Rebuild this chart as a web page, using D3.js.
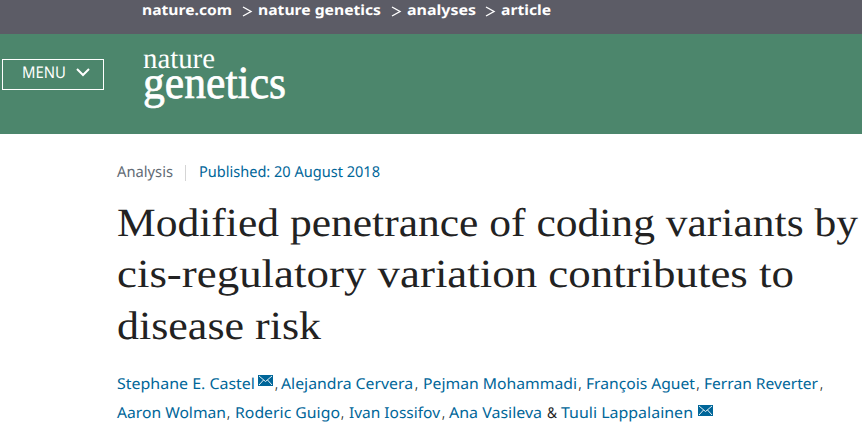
<!DOCTYPE html>
<html>
<head>
<meta charset="utf-8">
<script src="https://cdn.jsdelivr.net/npm/d3@7"></script>
<style>
    html, body { margin: 0; padding: 0; background: #fff; overflow: hidden; }
    svg { display: block; }
    text { text-rendering: geometricPrecision; }
</style>
</head>
<body>
<div id="page"></div>
<script>

//--- Text ------------------------------------------------------------------------------------------------- //

var crumbs = ['nature.com', 'nature genetics', 'analyses', 'article'];
var titleLines = ['Modified penetrance of coding variants by', 'cis-regulatory variation contributes to', 'disease risk'];
var authorsLine1 = ['Stephane E. Castel', 'Alejandra Cervera', 'Pejman Mohammadi', 'François Aguet', 'Ferran Reverter'];
var authorsLine2 = ['Aaron Wolman', 'Roderic Guigo', 'Ivan Iossifov', 'Ana Vasileva', 'Tuuli Lappalainen'];
var metaType = 'Analysis';
var metaDate = 'Published: 20 August 2018';


//--- Layout ----------------------------------------------------------------------------------------------- //

var width = 862, height = 425;
var sans = '"Noto Sans", Lato, sans-serif';
var serif = '"Liberation Serif", serif';

var svg = d3.select('#page').append('svg')
    .attr('width', width)
    .attr('height', height);

// one text with a fixed start and width
function label(x, y, str, size, w, color, font, weight) {
    return svg.append('text')
        .attr('x', x)
        .attr('y', y)
        .attr('textLength', w)
        .attr('lengthAdjust', 'spacingAndGlyphs')
        .attr('font-family', font)
        .attr('font-size', size)
        .attr('font-weight', weight || 400)
        .attr('fill', color)
        .text(str);
}

function envelope(x, y) {
    var g = svg.append('g').attr('transform', 'translate(' + x + ',' + y + ')');
    g.append('rect').attr('width', 15).attr('height', 11).attr('fill', '#069');
    g.append('path')
        .attr('d', 'M1,1L7.5,6.5L14,1M1,10L5.5,5M14,10L9.5,5')
        .attr('fill', 'none')
        .attr('stroke', '#fff')
        .attr('stroke-width', 0.9);
}


//--- Header ----------------------------------------------------------------------------------------------- //

svg.append('rect').attr('width', width).attr('height', 34).attr('fill', '#5c5c66');
svg.append('rect').attr('y', 34).attr('width', width).attr('height', 100).attr('fill', '#4c866c');

var crumbX = [142, 258, 407, 501];
var crumbW = [90, 123, 69, 50];

crumbs.forEach(function (c, i) {
    label(crumbX[i], 15, c, 14, crumbW[i], '#fff', sans, 700);
    if (i > 0) {
        svg.append('path')
            .attr('d', 'M' + (crumbX[i] - 15) + ',7L' + (crumbX[i] - 7) + ',11.5L' + (crumbX[i] - 15) + ',16')
            .attr('fill', 'none')
            .attr('stroke', '#fff')
            .attr('stroke-width', 1.4);
    }
});

svg.append('rect')
    .attr('x', 2.5).attr('y', 59.5)
    .attr('width', 101).attr('height', 30)
    .attr('fill', 'none')
    .attr('stroke', '#fff')
    .attr('stroke-width', 1);

label(22, 78, 'MENU', 16, 44, '#fff', sans, 400);

svg.append('path')
    .attr('d', 'M77,69L83,75L89,69')
    .attr('fill', 'none')
    .attr('stroke', '#fff')
    .attr('stroke-width', 2);

label(143, 68, 'nature', 29, 72, '#fff', serif, 400);
label(143, 98, 'genetics', 46, 143, '#fff', serif, 400)
    .attr('stroke', '#fff')
    .attr('stroke-width', 0.7);


//--- Meta line -------------------------------------------------------------------------------------------- //

label(117, 177, metaType, 15, 56, '#626b75', sans, 400);
svg.append('rect').attr('x', 185).attr('y', 165).attr('width', 1).attr('height', 16).attr('fill', '#d5d5d5');
label(199, 177, metaDate, 15, 181, '#069', sans, 400);


//--- Title ------------------------------------------------------------------------------------------------ //

var titleY = [235.5, 287, 338.5];
var titleW = [741, 677, 204];

svg.selectAll('text.title')
    .data(titleLines)
    .enter()
    .append('text')
    .attr('class', 'title')
    .attr('x', 117)
    .attr('y', function (d, i) { return titleY[i]; })
    .attr('textLength', function (d, i) { return titleW[i]; })
    .attr('lengthAdjust', 'spacingAndGlyphs')
    .attr('font-family', serif)
    .attr('font-size', 40)
    .attr('fill', '#222')
    .text(function (d) { return d; });


//--- Authors ---------------------------------------------------------------------------------------------- //

var line1X = [117, 281, 423, 586, 704];
var line1W = [138, 132, 154, 109, 114];
var comma1X = [275, 415, 578.5, 696.5, 820];

var line2X = [117, 235, 349, 449, 561];
var line2W = [109, 105, 91, 93, 132];
var comma2X = [227, 341, 442];

authorsLine1.forEach(function (a, i) {
    label(line1X[i], 389, a, 15, line1W[i], '#069', sans, 400);
    label(comma1X[i], 389, ',', 15, 3, '#222', sans, 400);
});

authorsLine2.forEach(function (a, i) {
    label(line2X[i], 418, a, 15, line2W[i], '#069', sans, 400);
});

comma2X.forEach(function (x) {
    label(x, 418, ',', 15, 3, '#222', sans, 400);
});

label(547, 418, '&', 15, 10, '#222', sans, 400);

envelope(258, 375);
envelope(698, 405);

</script>
</body>
</html>
